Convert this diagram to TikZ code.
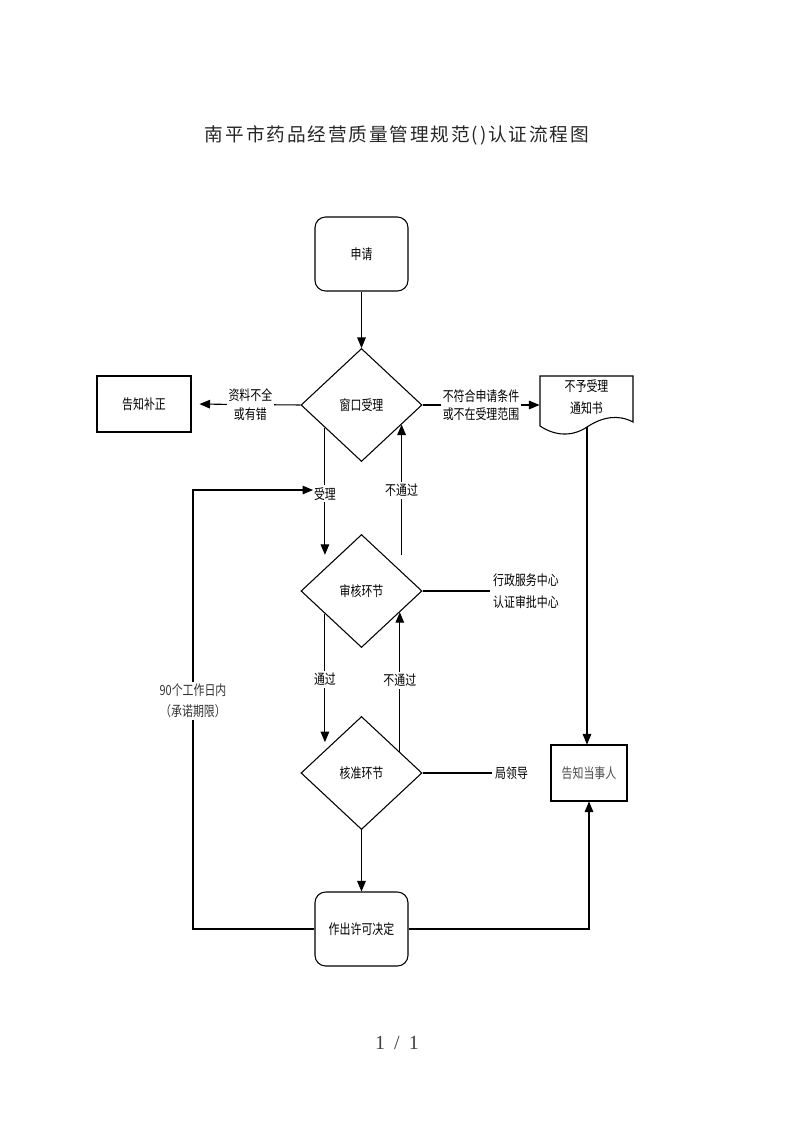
\documentclass[tikz,border=0pt]{standalone}
\usepackage{fontspec}
\setmainfont{Liberation Serif}
\newfontfamily\cjk[FakeStretch=0.78]{Noto Sans CJK SC}
\newfontfamily\cjktitle[LetterSpace=10]{Noto Sans CJK SC}
\usetikzlibrary{arrows,shapes.geometric}

\begin{document}
\begin{tikzpicture}[x=0.75pt,y=-0.75pt,>=triangle 45,line width=0.8pt,
  every node/.style={font=\cjk\fontsize{10.5}{14}\selectfont,align=center},
  rbox/.style={draw,rounded corners=8pt,minimum width=69.75pt,minimum height=55.5pt},
  sbox/.style={draw,minimum width=70.5pt,minimum height=42pt},
  dia/.style={draw,diamond,inner sep=0pt,minimum width=90.75pt,minimum height=84.75pt},
  lbl/.style={fill=white,inner sep=1.5pt}]
\useasboundingbox (0,0) rectangle (793,1122);
\node[font=\cjktitle\fontsize{14}{17}\selectfont,text=black!85] (title) at (397,135) {南平市药品经营质量管理规范()认证流程图};
% boxes
\node[rbox] (apply) at (361.5,254) {申请};
\node[dia] (win) at (361.5,405) {窗口受理};
\node[sbox] (fix) at (144,404) {告知补正};
\node[minimum width=69.75pt,font=\cjk\fontsize{10.5}{16.5}\selectfont] (notice) at (586.5,397) {不予受理\\通知书};
\draw (540,426) -- (540,376) -- (633,376) -- (633,422)
  .. controls (618,414) and (602,417) .. (587,427)
  .. controls (572,437) and (555,436) .. (540,426);
\coordinate (wave) at (587,427);
\node[sbox,minimum width=57pt,text=black!70] (inform) at (589,773) {告知当事人};
\node[dia] (chk) at (361.5,591) {审核环节};
\node[dia] (apv) at (361.5,773) {核准环节};
\node[rbox] (dec) at (361.5,929) {作出许可决定};
\node[anchor=west,inner sep=2pt,font=\cjk\fontsize{10.5}{16.5}\selectfont] (govc) at (490,591) {行政服务中心\\认证审批中心};
\node[anchor=west,inner sep=2pt] (lead) at (492,773) {局领导};
% connectors
\draw[->] (apply) -- (win);
\draw[->,shorten >=6pt] (win.west) -- (fix.east) node[pos=0.46,lbl] {资料不全\\或有错};
\draw[->] (win.east) -- (win.east -| notice.west) node[midway,lbl] {不符合申请条件\\或不在受理范围};
\draw[->] (wave) -- (wave |- inform.north);
\draw[->,shorten >=10pt] (win.212) -- (win.212 |- chk.148) node[pos=0.47,lbl] {受理};
\draw[<-,shorten >=12pt] (win.334) -- (win.334 |- chk.26) node[pos=0.45,lbl] {不通过};
\draw[->,shorten >=6pt] (chk.212) -- (chk.212 |- apv.148) node[pos=0.48,lbl] {通过};
\draw[<-] (chk.331) -- (chk.331 |- apv.29) node[pos=0.49,lbl] {不通过};
\draw (chk.east) -- (govc.west);
\draw (apv.east) -- (lead.west);
\draw[->] (apv) -- (dec);
\coordinate (loopc) at (193,490);
\coordinate (loopend) at (313,490);
\draw[->] (dec.west) -| node[pos=0.76,lbl,font=\cjk\fontsize{10.5}{15.75}\selectfont,text=black!80] {90个工作日内\\（承诺期限）} (loopc) -- (loopend);
\draw[->] (dec.east) -| (inform.south);
\node[font=\rmfamily\fontsize{15}{18}\selectfont,text=black!75] (page) at (397,1043) {1\hspace{0.45em}/\hspace{0.45em}1};
\end{tikzpicture}
\end{document}
